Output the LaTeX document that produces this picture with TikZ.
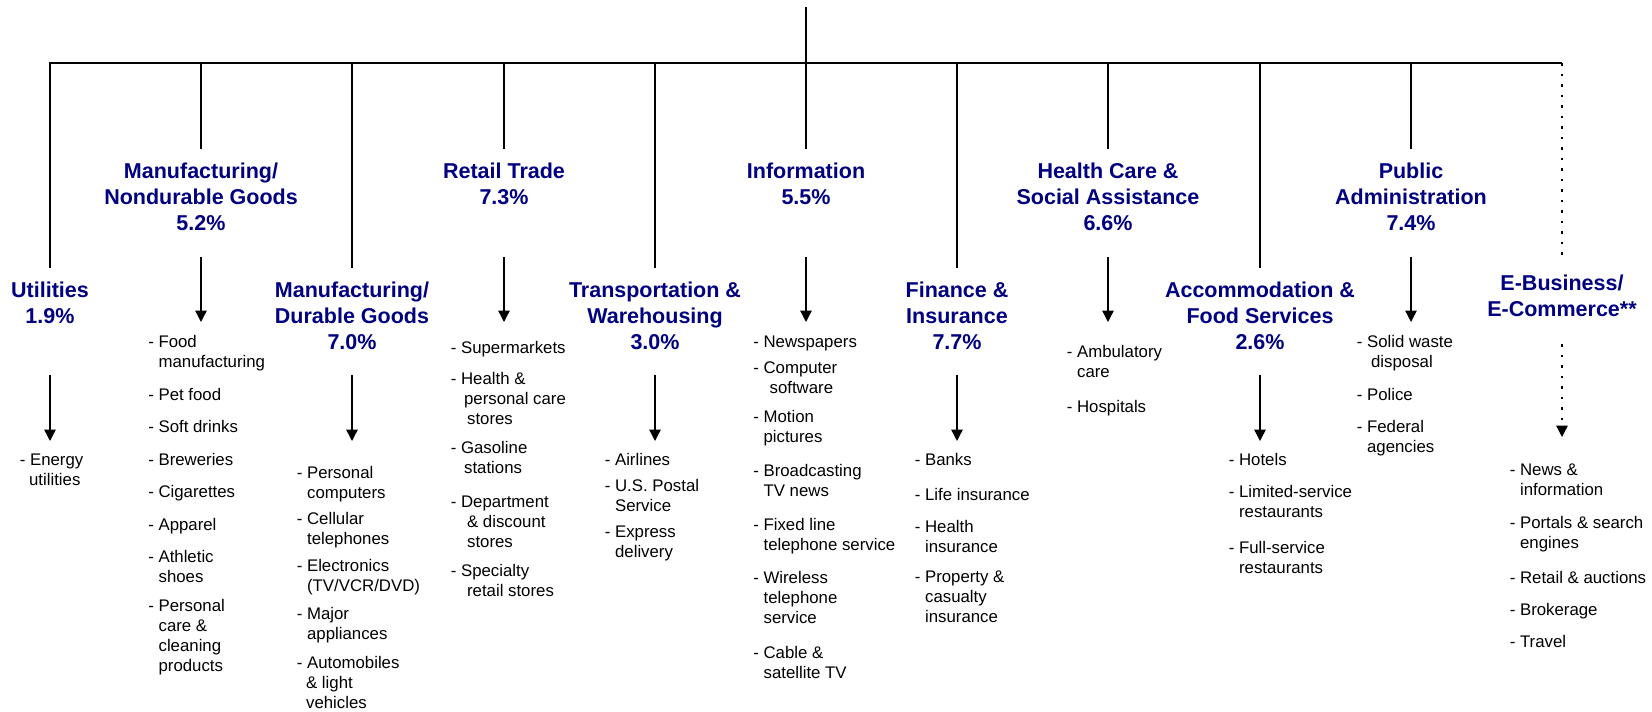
\documentclass[tikz,border=0pt]{standalone}
\usepackage{fontspec}
\setmainfont{Liberation Sans}
\usetikzlibrary{arrows.meta}
\definecolor{ttlblue}{RGB}{0,0,128}
\newcommand{\cont}[1][0pt]{\hspace*{\dimexpr10.3pt+#1\relax}}
\begin{document}
\begin{tikzpicture}[x=1pt,y=-1pt,line width=1.6pt,
  ttl/.style={anchor=north,align=center,inner xsep=0pt,inner ysep=13pt,text=ttlblue,font=\fontsize{21.5}{26}\selectfont\bfseries},
  lst/.style={anchor=north west,align=left,inner sep=0pt,font=\fontsize{16.8}{20}\selectfont},
  arr/.style={line width=1.4pt,-{Triangle[width=11.5pt,length=11.5pt,line width=1.4pt]}},
  dots/.style={line width=1.2pt,dash pattern=on 2.5pt off 8pt}]
 \useasboundingbox (0,0) rectangle (1652,712);
 \coordinate (root) at (806,7);
 \coordinate (bar) at (0,63);
 \coordinate (r1a) at (0,257);
 \coordinate (r1b) at (0,322);
 \coordinate (r2a) at (0,375);
 \coordinate (r2b) at (0,441);
 \coordinate (eba) at (0,344);
 \coordinate (ebb) at (0,437);

 \node[ttl] (util) at (50,268) {Utilities\\1.9\%};
 \node[ttl] (ndg) at (201,149) {Manufacturing/\\Nondurable Goods\\5.2\%};
 \node[ttl] (dg) at (352,268) {Manufacturing/\\Durable Goods\\7.0\%};
 \node[ttl] (ret) at (504,149) {Retail Trade\\7.3\%};
 \node[ttl] (trans) at (655,268) {Transportation \&\\Warehousing\\3.0\%};
 \node[ttl] (info) at (806,149) {Information\\5.5\%};
 \node[ttl] (fin) at (957,268) {Finance \&\\Insurance\\7.7\%};
 \node[ttl] (hlth) at (1108,149) {Health Care \&\\Social Assistance\\6.6\%};
 \node[ttl] (acc) at (1260,268) {Accommodation \&\\Food Services\\2.6\%};
 \node[ttl] (pub) at (1411,149) {Public\\Administration\\7.4\%};
 \node[ttl] (ebiz) at (1562,261) {E-Business/\\E-Commerce**};

 \node[lst] (util-l) at (19,453) {- Energy\\\cont[-1pt]utilities};
 \node[lst] (ndg-l) at (147.5,335) {- Food\\\cont manufacturing\\[13pt]- Pet food\\[12pt]- Soft drinks\\[13pt]- Breweries\\[12pt]- Cigarettes\\[13pt]- Apparel\\[12pt]- Athletic\\\cont shoes\\[9pt]- Personal\\\cont care \&\\\cont cleaning\\\cont products};
 \node[lst] (dg-l) at (296,466) {- Personal\\\cont computers\\[6pt]- Cellular\\\cont telephones\\[7pt]- Electronics\\\cont (TV/VCR/DVD)\\[8pt]- Major\\\cont appliances\\[9pt]- Automobiles\\\cont[-1pt]\& light\\\cont[-1pt]vehicles};
 \node[lst] (ret-l) at (450,341) {- Supermarkets\\[11pt]- Health \&\\\cont[3pt]personal care\\\cont[6pt]stores\\[9pt]- Gasoline\\\cont[3pt]stations\\[14pt]- Department\\\cont[6pt]\& discount\\\cont[6pt]stores\\[9pt]- Specialty\\\cont[6pt]retail stores};
 \node[lst] (trans-l) at (604,453) {- Airlines\\[6pt]- U.S. Postal\\\cont Service\\[6pt]- Express\\\cont delivery};
 \node[lst] (info-l) at (752.5,335) {- Newspapers\\[6pt]- Computer\\\cont[6pt]software\\[9pt]- Motion\\\cont pictures\\[14pt]- Broadcasting\\\cont TV news\\[14pt]- Fixed line\\\cont telephone service\\[13pt]- Wireless\\\cont telephone\\\cont service\\[15pt]- Cable \&\\\cont satellite TV};
 \node[lst] (fin-l) at (914,453) {- Banks\\[15pt]- Life insurance\\[12pt]- Health\\\cont insurance\\[10pt]- Property \&\\\cont casualty\\\cont insurance};
 \node[lst] (hlth-l) at (1066,345) {- Ambulatory\\\cont care\\[15pt]- Hospitals};
 \node[lst] (acc-l) at (1228,453) {- Hotels\\[12pt]- Limited-service\\\cont restaurants\\[16pt]- Full-service\\\cont restaurants};
 \node[lst] (pub-l) at (1356,335) {- Solid waste\\\cont[4pt]disposal\\[13pt]- Police\\[12pt]- Federal\\\cont agencies};
 \node[lst] (ebiz-l) at (1509,463) {- News \&\\\cont information\\[13pt]- Portals \& search\\\cont engines\\[15pt]- Retail \& auctions\\[12pt]- Brokerage\\[12pt]- Travel};

 \draw (root) -- (root |- bar);
 \draw (util.north) |- (ebiz |- bar);
 \draw (ndg |- bar) -- (ndg.north);
 \draw (dg |- bar) -- (dg.north);
 \draw (ret |- bar) -- (ret.north);
 \draw (trans |- bar) -- (trans.north);
 \draw (info |- bar) -- (info.north);
 \draw (fin |- bar) -- (fin.north);
 \draw (hlth |- bar) -- (hlth.north);
 \draw (acc |- bar) -- (acc.north);
 \draw (pub |- bar) -- (pub.north);
 \draw[dots] (ebiz |- bar) -- (ebiz.north);

 \draw[arr] (ndg |- r1a) -- (ndg |- r1b);
 \draw[arr] (ret |- r1a) -- (ret |- r1b);
 \draw[arr] (info |- r1a) -- (info |- r1b);
 \draw[arr] (hlth |- r1a) -- (hlth |- r1b);
 \draw[arr] (pub |- r1a) -- (pub |- r1b);
 \draw[arr] (util |- r2a) -- (util |- r2b);
 \draw[arr] (dg |- r2a) -- (dg |- r2b);
 \draw[arr] (trans |- r2a) -- (trans |- r2b);
 \draw[arr] (fin |- r2a) -- (fin |- r2b);
 \draw[arr] (acc |- r2a) -- (acc |- r2b);
 \draw[arr,dots] (ebiz |- eba) -- (ebiz |- ebb);
\end{tikzpicture}
\end{document}
